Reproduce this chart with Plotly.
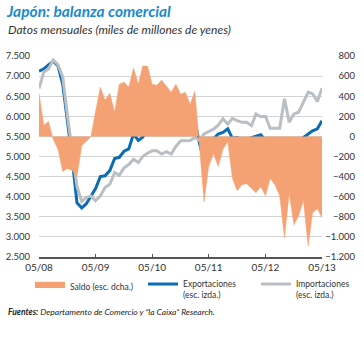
import pandas as pd
import plotly.graph_objects as go

months = pd.date_range("2008-05-01", periods=61, freq="MS")

exportaciones = [7120, 7180, 7280, 7370, 7250, 6800, 5860, 4950, 3850, 3720,
                 3820, 4000, 4200, 4500, 4520, 4650, 4950, 4980, 5130, 5190,
                 5560, 5400, 5480, 5690, 5690, 5660, 5640, 5610, 5570, 5600,
                 5640, 5750, 5780, 5890, 5350, 4890, 5060, 5440, 5560, 5600,
                 5690, 5450, 5470, 5400, 5420, 5470, 5500, 5540, 5400, 5320,
                 5240, 5190, 5220, 5060, 5060, 5310, 5470, 5560, 5640, 5690,
                 5890]

importaciones = [6690, 7100, 7180, 7400, 7280, 6980, 6000, 5200, 4250, 3880,
                 3980, 4020, 3900, 4020, 4230, 4310, 4600, 4530, 4720, 4800,
                 4930, 4850, 5000, 5080, 5140, 5140, 5060, 5120, 5060, 5250,
                 5390, 5390, 5400, 5475, 5400, 5560, 5620, 5680, 5780, 5935,
                 5810, 5950, 5890, 5850, 5850, 5767, 6060, 5990, 6000, 5700,
                 5700, 5700, 6435, 5850, 6060, 6100, 6350, 6600, 6560, 6367,
                 6700]

saldo = [430, 110, 150, -30, -130, -350, -320, -340, -400, -90,
         -50, 0, 250, 490, 360, 430, 240, 520, 540, 490,
         680, 520, 700, 700, 520, 510, 560, 500, 440, 520,
         420, 440, 320, 450, -100, -650, -300, -170, -300, -130,
         -50, -420, -540, -480, -470, -520, -560, -500, -590, -420,
         -480, -590, -1010, -570, -880, -790, -640, -1090, -760, -720,
         -810]

tick_dates = pd.date_range("2008-05-01", periods=6, freq="12MS")
tick_labels = ["05/08", "05/09", "05/10", "05/11", "05/12", "05/13"]

FONT = "Lato"
TXT = "#333333"

fig = go.Figure()
fig.add_trace(go.Scatter(
    x=months, y=saldo, yaxis="y2", name="Saldo (esc. dcha.)",
    mode="lines", fill="tozeroy", fillcolor="#F4A273",
    line=dict(color="#F4A273", width=0.5),
))
fig.add_trace(go.Scatter(
    x=months, y=exportaciones, name="Exportaciones<br>(esc. izda.)",
    mode="lines", line=dict(color="#0A6DB3", width=3),
))
fig.add_trace(go.Scatter(
    x=months, y=importaciones, name="Importaciones<br>(esc. izda.)",
    mode="lines", line=dict(color="#B9BFC3", width=3),
))

fig.update_layout(
    width=364, height=338,
    margin=dict(l=39, r=7, t=56, b=81, autoexpand=False),
    paper_bgcolor="white", plot_bgcolor="white",
    separators=",.",
    font=dict(family=FONT, color=TXT, size=10),
    title=dict(
        text="<b><i>Japón: balanza comercial</i></b>",
        font=dict(family=FONT, size=15.5, color="#1B8BCD"),
        xref="container", yref="container", x=7/364, y=1-12/338,
        xanchor="left", yanchor="middle",
    ),
    xaxis=dict(
        domain=[0, 283/318],
        range=[months[0], months[-1]],
        tickvals=tick_dates, ticktext=tick_labels,
        showgrid=False, zeroline=False,
        showline=True, linecolor="#555555", linewidth=1.5,
        ticks="inside", ticklen=3, tickcolor="#555555",
        tickfont=dict(size=10, color=TXT),
    ),
    yaxis=dict(
        range=[2500, 7500], dtick=500, tickformat=",d",
        showgrid=True, gridcolor="#D3D3D3", gridwidth=1,
        zeroline=False, showline=False, ticks="",
        ticklabelstandoff=8,
        tickfont=dict(size=9.5, color=TXT),
    ),
    yaxis2=dict(
        range=[-1200, 800], dtick=200, tickformat=",d",
        overlaying="y", anchor="free", position=1, side="left",
        showgrid=False, zeroline=False, showline=False, ticks="",
        ticklabelstandoff=2,
        tickfont=dict(size=9.5, color=TXT),
    ),
    showlegend=True,
    legend=dict(
        orientation="h", xref="paper", yref="paper",
        x=(30-39)/318, y=(257-272)/201, xanchor="left", yanchor="top",
        font=dict(size=8.5, color=TXT), valign="top",
        entrywidth=68, entrywidthmode="pixels",
        itemwidth=30, bgcolor="rgba(0,0,0,0)",
    ),
    annotations=[
        dict(text="<i>Datos mensuales (miles de millones de yenes)</i>",
             xref="paper", yref="paper", x=(6-39)/318, y=(257-30)/201,
             xanchor="left", yanchor="middle", showarrow=False,
             font=dict(family=FONT, size=12, color=TXT)),
        dict(text="<b><i>Fuentes:</i></b><i> Departamento de Comercio y “la Caixa” Research.</i>",
             xref="paper", yref="paper", x=(6-39)/318, y=(257-312)/201,
             xanchor="left", yanchor="middle", showarrow=False,
             font=dict(family=FONT, size=8.5, color="#222222")),
    ],
)

fig.write_html("out.html")
